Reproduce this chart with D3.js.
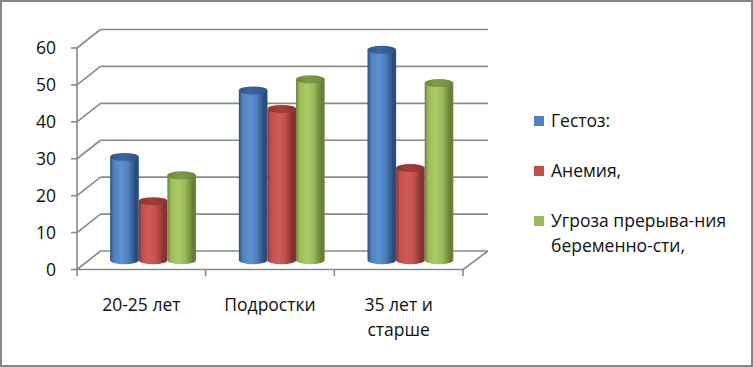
<!DOCTYPE html>
<html>
<head>
<meta charset="utf-8">
<script src="https://cdn.jsdelivr.net/npm/d3@7/dist/d3.min.js"></script>
<style>
  html, body { margin: 0; padding: 0; background: #fff; }
  svg { display: block; }
  text { font-family: "Open Sans", Lato, "Noto Sans", sans-serif; fill: #111; }
</style>
</head>
<body>
<svg id="chart" width="753" height="367"></svg>
<script>
const categories = ["20-25 лет", "Подростки", "35 лет и старше"];
const categoryLines = [["20-25 лет"], ["Подростки"], ["35 лет и", "старше"]];
const seriesNames = ["Гестоз:", "Анемия,", "Угроза прерыва-ния беременно-сти,"];
const legendLines = [["Гестоз:"], ["Анемия,"], ["Угроза прерыва-ния", "беременно-сти,"]];
const gestoz = [28, 46, 57];
const anemia = [16, 41, 25];
const threat = [23, 49, 48];
const yTicks = [0, 10, 20, 30, 40, 50, 60];

const seriesValues = [gestoz, anemia, threat];
const colors = [
  {id: "blue",  edge: "#2a4c7a", mid: "#4f81bd", light: "#5c90d3", top: "#3b669f", topDark: "#2f5583"},
  {id: "red",   edge: "#843230", mid: "#c0504d", light: "#d25b57", top: "#a13e3b", topDark: "#8a3431"},
  {id: "green", edge: "#66803a", mid: "#9bbb59", light: "#aacb66", top: "#7f9c45", topDark: "#6d873a"}
];
const fontSize = 17.5;

const svg = d3.select("#chart");
const defs = svg.append("defs");
colors.forEach(c => {
  const g = defs.append("linearGradient").attr("id", "body-" + c.id)
    .attr("x1", "0%").attr("x2", "100%").attr("y1", "0%").attr("y2", "0%");
  [[0, c.edge], [0.12, c.mid], [0.38, c.light], [0.62, c.mid], [0.88, c.edge], [1, c.edge]]
    .forEach(([o, col]) => g.append("stop").attr("offset", o).attr("stop-color", col));
  const t = defs.append("linearGradient").attr("id", "top-" + c.id)
    .attr("x1", "0%").attr("x2", "100%").attr("y1", "0%").attr("y2", "0%");
  [[0, c.topDark], [0.4, c.top], [1, c.topDark]]
    .forEach(([o, col]) => t.append("stop").attr("offset", o).attr("stop-color", col));
});

// frame
svg.append("rect").attr("x", 1).attr("y", 1).attr("width", 751).attr("height", 365)
  .attr("fill", "#fff").attr("stroke", "#868686").attr("stroke-width", 2);

const x0 = 77, x1 = 463;
const depthX = 23.5, depthY = -18.5;
const y = d3.scaleLinear().domain([0, 60]).range([269.5, 48]);
const x = d3.scaleBand().domain(categories).range([x0, x1]).paddingInner(0).paddingOuter(0);
const xs = d3.scaleBand().domain(seriesNames).range([0, x.bandwidth()]).paddingInner(0).paddingOuter(0.75);

const gridColor = "#8a8a8a";
const grid = svg.append("g").attr("stroke", gridColor).attr("stroke-width", 1.6).attr("fill", "none");
yTicks.forEach(v => {
  grid.append("line").attr("x1", x0 + depthX).attr("x2", x1 + depthX + 1.5)
    .attr("y1", y(v) + depthY).attr("y2", y(v) + depthY);
  grid.append("line").attr("x1", x0).attr("x2", x0 + depthX)
    .attr("y1", y(v)).attr("y2", y(v) + depthY);
  grid.append("line").attr("x1", x0 - 6).attr("x2", x0).attr("y1", y(v)).attr("y2", y(v));
});
// floor
grid.append("line").attr("x1", x0).attr("x2", x1).attr("y1", y(0)).attr("y2", y(0));
grid.append("line").attr("x1", x1).attr("x2", x1 + depthX + 1.5).attr("y1", y(0)).attr("y2", y(0) + depthY);
// vertical axis
grid.append("line").attr("x1", x0).attr("x2", x0).attr("y1", y(60)).attr("y2", y(0));
// category ticks
[x0].concat(categories.map(c => x(c) + x.bandwidth())).forEach(px => {
  grid.append("line").attr("x1", px).attr("x2", px).attr("y1", y(0)).attr("y2", y(0) + 6.5);
});

// y labels
svg.append("g").selectAll("text").data(yTicks).join("text")
  .attr("x", 56).attr("y", d => y(d)).attr("dy", "0.35em")
  .attr("text-anchor", "end").attr("font-size", fontSize).text(d => d);

// category labels
categories.forEach((c, i) => {
  const cx = x(c) + x.bandwidth() / 2;
  categoryLines[i].forEach((ln, j) => {
    svg.append("text").attr("x", cx).attr("y", 305 + j * 25).attr("dy", "0.35em")
      .attr("text-anchor", "middle").attr("font-size", fontSize).text(ln);
  });
});

// cylinders
const bars = svg.append("g");
const rx = xs.bandwidth() / 2, ry = 4;
categories.forEach((c, ci) => {
  seriesNames.forEach((s, si) => {
    const v = seriesValues[si][ci];
    const cx = x(c) + xs(s) + rx + depthX / 2;
    const yb = y(0) + depthY / 2;
    const yt = y(v) + depthY / 2;
    const col = colors[si];
    const p = `M${cx - rx},${yt} L${cx - rx},${yb} A${rx},${ry} 0 0 0 ${cx + rx},${yb} L${cx + rx},${yt} Z`;
    bars.append("path").attr("d", p).attr("fill", `url(#body-${col.id})`);
    bars.append("ellipse").attr("cx", cx).attr("cy", yt).attr("rx", rx).attr("ry", ry)
      .attr("fill", `url(#top-${col.id})`);
  });
});

// legend
const legend = svg.append("g");
const legendY = [121, 171, 221];
seriesNames.forEach((s, i) => {
  legend.append("rect").attr("x", 534).attr("y", legendY[i] - 5).attr("width", 10).attr("height", 10)
    .attr("fill", colors[i].mid);
  legendLines[i].forEach((ln, j) => {
    legend.append("text").attr("x", 551).attr("y", legendY[i] + j * 25).attr("dy", "0.35em")
      .attr("font-size", fontSize).text(ln);
  });
});
</script>
</body>
</html>
